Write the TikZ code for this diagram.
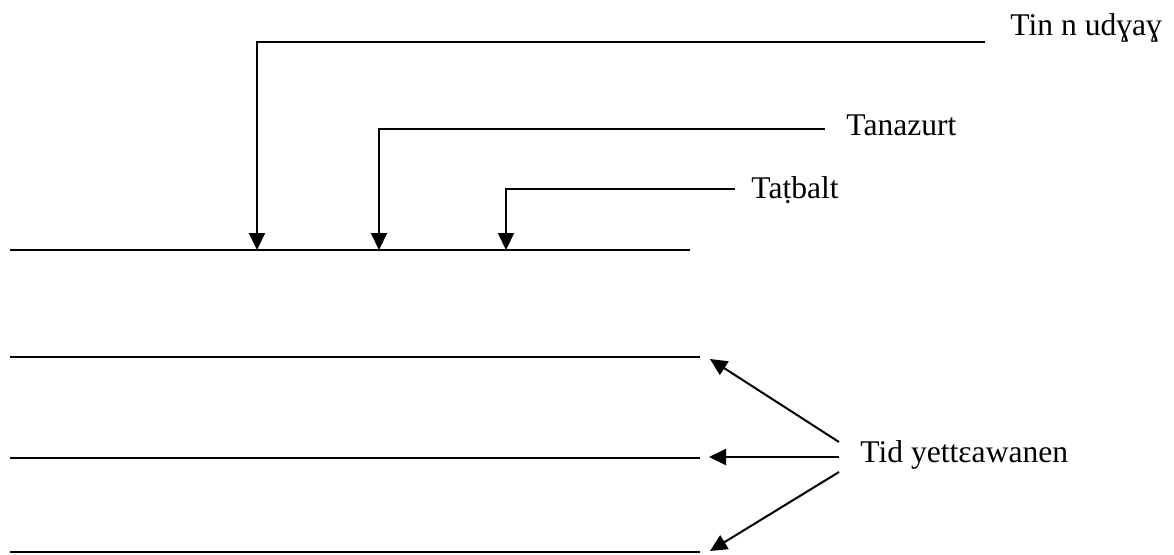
\documentclass[tikz,border=0pt]{standalone}
\usepackage{fontspec}
\setmainfont{Liberation Serif}
\usetikzlibrary{arrows.meta}
\begin{document}
\begin{tikzpicture}[x=0.5pt,y=-0.5pt,
  lbl/.style={anchor=base west,inner sep=0pt,font=\fontsize{15.8}{19}\selectfont},
  ln/.style={line width=1pt},
  arr/.style={line width=1pt,-{Triangle[width=8pt,length=8.5pt]}}]
\useasboundingbox (0,0) rectangle (1174,554);
% labels
\node[lbl] (l1) at (1010,35) {Tin n udɣaɣ};
\node[lbl] (l2) at (846,135) {Tanazurt};
\node[lbl] (l3) at (751,198) {Taṭbalt};
\node[lbl] (l4) at (860,462) {Tid yettɛawanen};
% horizontal lines
\coordinate (m0) at (10,250); \coordinate (m1) at (690,250);
\coordinate (a0) at (10,357); \coordinate (a1) at (700,357);
\coordinate (b0) at (10,458); \coordinate (b1) at (700,458);
\coordinate (c0) at (10,552); \coordinate (c1) at (700,552);
\draw[ln] (m0) -- (m1);
\draw[ln] (a0) -- (a1);
\draw[ln] (b0) -- (b1);
\draw[ln] (c0) -- (c1);
% bracket arrows
\coordinate (s1) at (985,42);  \coordinate (e1) at (257,250);
\coordinate (s2) at (825,129); \coordinate (e2) at (379,250);
\coordinate (s3) at (735,189); \coordinate (e3) at (506,250);
\draw[arr] (s1) -| (e1);
\draw[arr] (s2) -| (e2);
\draw[arr] (s3) -| (e3);
% pointer arrows
\coordinate (t1) at (839,442); \coordinate (p1) at (710,359);
\coordinate (t2) at (839,457); \coordinate (p2) at (709,457);
\coordinate (t3) at (839,472); \coordinate (p3) at (710,551);
\draw[arr] (t1) -- (p1);
\draw[arr] (t2) -- (p2);
\draw[arr] (t3) -- (p3);
\end{tikzpicture}
\end{document}
